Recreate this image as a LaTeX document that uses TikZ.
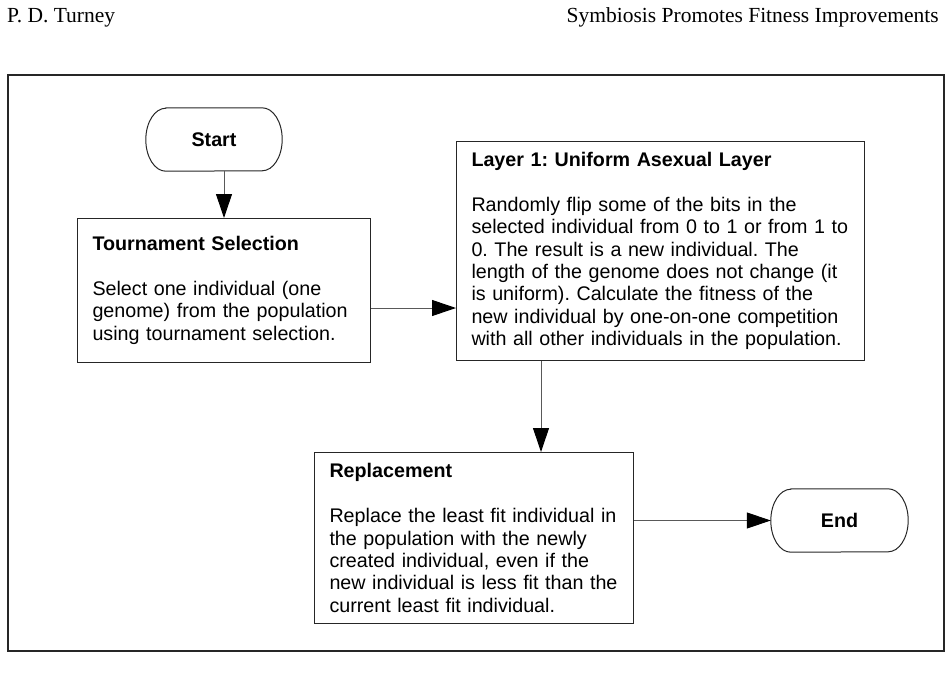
\documentclass[tikz,border=0pt]{standalone}
\usepackage{fontspec}
\setmainfont{Liberation Serif}
\newfontfamily\boxfont{Liberation Sans}
\usetikzlibrary{arrows.meta}
\frenchspacing

\begin{document}
\begin{tikzpicture}
    [x=1pt,y=-1pt,
     stepbox/.style={draw=black!85,line width=1pt,align=left,anchor=north west,
       inner xsep=15pt,inner ysep=0pt,text width=#1,
       font=\boxfont\fontsize{19.7}{22.4}\selectfont},
     terminal/.style={rectangle,minimum width=136pt,minimum height=63pt,
       inner sep=0pt,font=\boxfont\fontsize{19.7}{22.4}\selectfont\bfseries},
     outline/.style={draw=black!85,line width=1pt},
     link/.style={-{Triangle[length=24pt,width=16pt,color=black]},draw=black!65,line width=1pt},
     header/.style={anchor=base,inner sep=0pt,font=\fontsize{21.5}{24}\selectfont}]
    \useasboundingbox (0, 0) rectangle (951, 688);
    \node (author) at (7, 22) [header,anchor=base west] {P. D. Turney};
    \node (title) at (939, 22) [header,anchor=base east] {Symbiosis Promotes Fitness Improvements};
    \draw [line width=1.2pt,black!85] (8, 75) rectangle (944, 651);
    \node (start) at (214, 139.5) [terminal] {Start};
    \node (tour) at (77, 218) [stepbox=263pt,minimum height=144pt]
      {\textbf{Tournament Selection}\\[22.4pt]
       Select one individual (one\\
       genome) from the population\\
       using tournament selection.};
    \node (layer) at (456, 141) [stepbox=378pt,minimum height=219pt]
      {\textbf{Layer 1: Uniform Asexual Layer}\\[22.4pt]
       Randomly flip some of the bits in the\\
       selected individual from 0 to 1 or from 1 to\\
       0. The result is a new individual. The\\
       length of the genome does not change (it\\
       is uniform). Calculate the fitness of the\\
       new individual by one-on-one competition\\
       with all other individuals in the population.};
    \node (repl) at (314, 452) [stepbox=289pt,minimum height=171pt]
      {\textbf{Replacement}\\[22.4pt]
       Replace the least fit individual in\\
       the population with the newly\\
       created individual, even if the\\
       new individual is less fit than the\\
       current least fit individual.};
    \node (end) at (839.5, 520.5) [terminal,minimum width=137pt] {End};
    % pill outlines with elliptic ends
    \foreach \t in {start, end}
      \draw [outline] ([xshift=20pt]\t.north west) -- ([xshift=-20pt]\t.north east)
        arc [start angle=90, end angle=-90, x radius=20pt, y radius=31.5pt]
        -- ([xshift=20pt]\t.south west)
        arc [start angle=270, end angle=90, x radius=20pt, y radius=31.5pt] -- cycle;
    \coordinate (row1) at (0, 308);
    \coordinate (col1) at (541, 0);
    \draw [link] (start.south -| tour.north) to (tour.north);
    \draw [link] (tour.east |- row1) to (layer.west |- row1);
    \draw [link] (layer.south -| col1) to (repl.north -| col1);
    \draw [link] (repl.east |- end.west) to (end.west);
  \end{tikzpicture}
\end{document}
